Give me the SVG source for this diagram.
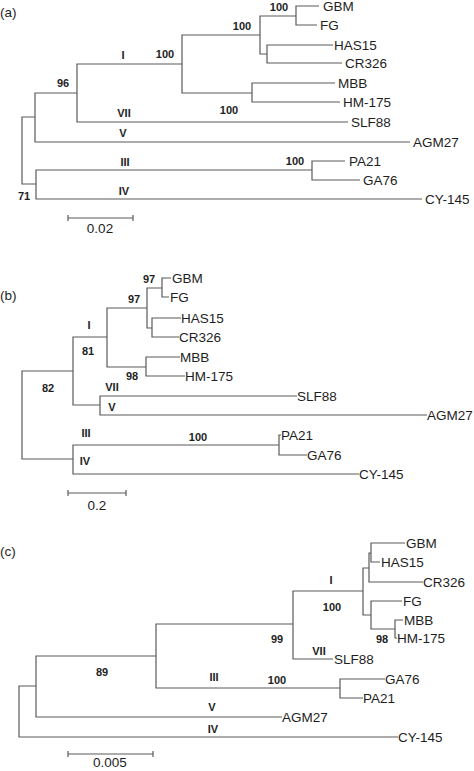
<svg xmlns="http://www.w3.org/2000/svg" width="474" height="771" viewBox="0 0 474 771">
<style>
.br{fill:none;stroke:#5a5a5a;stroke-width:1.2}
.tx{font-family:"Liberation Sans",Arial,sans-serif;font-size:13.5px;fill:#1e1e1e}
.bs{font-family:"Liberation Sans",Arial,sans-serif;font-size:11px;font-weight:bold;fill:#1e1e1e;text-anchor:middle}
.sc{text-anchor:middle}
</style>
<rect width="474" height="771" fill="#fff"/>

<!-- Panel (a) -->
<g id="panel-a">
<text class="tx" x="0" y="17">(a)</text>
<g id="a-connectors">
<path class="br" d="M35 117 H22 V184 H36"/>
<path class="br" d="M77 93 H35 V142 H410"/>
<path class="br" d="M312 170 H36 V199 H422"/>
<path class="br" d="M182 64 H77 V122 H348"/>
<path class="br" d="M260 35 H182 V93 H252"/>
<path class="br" d="M296 16 H260 V54 H267"/>
<path class="br" d="M319 6 H296 V25 H317"/>
<path class="br" d="M333 45 H267 V63 H342"/>
<path class="br" d="M335 83 H252 V102 H340"/>
<path class="br" d="M345 161 H312 V180 H360"/>
</g>
<g id="a-GBM"><text class="tx" x="323" y="11">GBM</text></g>
<g id="a-FG"><text class="tx" x="320" y="30">FG</text></g>
<g id="a-HAS15"><text class="tx" x="334" y="50">HAS15</text></g>
<g id="a-CR326"><text class="tx" x="345" y="68">CR326</text></g>
<g id="a-MBB"><text class="tx" x="338" y="88">MBB</text></g>
<g id="a-HM175"><text class="tx" x="343" y="107">HM-175</text></g>
<g id="a-SLF88"><text class="tx" x="351" y="127">SLF88</text></g>
<g id="a-AGM27"><text class="tx" x="413" y="147">AGM27</text></g>
<g id="a-PA21"><text class="tx" x="349" y="166">PA21</text></g>
<g id="a-GA76"><text class="tx" x="363" y="185">GA76</text></g>
<g id="a-CY145"><text class="tx" x="425" y="204">CY-145</text></g>
<g id="a-support">
<text class="bs" x="279" y="11">100</text>
<text class="bs" x="242" y="30">100</text>
<text class="bs" x="165" y="58">100</text>
<text class="bs" x="63" y="87">96</text>
<text class="bs" x="123" y="59">I</text>
<text class="bs" x="124" y="117">VII</text>
<text class="bs" x="229" y="114">100</text>
<text class="bs" x="123" y="137">V</text>
<text class="bs" x="125" y="166">III</text>
<text class="bs" x="124" y="195">IV</text>
<text class="bs" x="24" y="200">71</text>
<text class="bs" x="295" y="165">100</text>
</g>
<g id="a-scale">
<path class="br" d="M68 218 H133 M68 215 V221 M133 215 V221"/>
<text class="tx sc" x="100" y="233">0.02</text>
</g>
</g>

<!-- Panel (b) -->
<g id="panel-b">
<text class="tx" x="0" y="300">(b)</text>
<g id="b-connectors">
<path class="br" d="M73 371 H22 V459 H73"/>
<path class="br" d="M107 337 H73 V405 H100"/>
<path class="br" d="M297 396 H100 V415 H427"/>
<path class="br" d="M147 308 H107 V367 H146"/>
<path class="br" d="M162 288 H147 V328 H152"/>
<path class="br" d="M171 278 H162 V297 H169"/>
<path class="br" d="M181 318 H152 V337 H179"/>
<path class="br" d="M180 357 H146 V376 H185"/>
<path class="br" d="M279 445 H73 V474 H359"/>
<path class="br" d="M281 435 H279 V455 H307"/>
</g>
<g id="b-GBM"><text class="tx" x="172" y="283">GBM</text></g>
<g id="b-FG"><text class="tx" x="170" y="302">FG</text></g>
<g id="b-HAS15"><text class="tx" x="181" y="323">HAS15</text></g>
<g id="b-CR326"><text class="tx" x="179" y="342">CR326</text></g>
<g id="b-MBB"><text class="tx" x="180" y="362">MBB</text></g>
<g id="b-HM175"><text class="tx" x="185" y="381">HM-175</text></g>
<g id="b-SLF88"><text class="tx" x="297" y="401">SLF88</text></g>
<g id="b-AGM27"><text class="tx" x="427" y="420">AGM27</text></g>
<g id="b-PA21"><text class="tx" x="281" y="440">PA21</text></g>
<g id="b-GA76"><text class="tx" x="307" y="460">GA76</text></g>
<g id="b-CY145"><text class="tx" x="359" y="479">CY-145</text></g>
<g id="b-support">
<text class="bs" x="149" y="283">97</text>
<text class="bs" x="134" y="303">97</text>
<text class="bs" x="89" y="329">I</text>
<text class="bs" x="88" y="355">81</text>
<text class="bs" x="48" y="392">82</text>
<text class="bs" x="132" y="380">98</text>
<text class="bs" x="112" y="391">VII</text>
<text class="bs" x="112" y="411">V</text>
<text class="bs" x="86" y="437">III</text>
<text class="bs" x="198" y="441">100</text>
<text class="bs" x="85" y="465">IV</text>
</g>
<g id="b-scale">
<path class="br" d="M68 493 H126 M68 490 V496 M126 490 V496"/>
<text class="tx sc" x="97" y="510">0.2</text>
</g>
</g>

<!-- Panel (c) -->
<g id="panel-c">
<text class="tx" x="0" y="556">(c)</text>
<g id="c-connectors">
<path class="br" d="M36 686 H19 V737 H398"/>
<path class="br" d="M156 656 H36 V717 H282"/>
<path class="br" d="M293 624 H156 V688 H340"/>
<path class="br" d="M363 591 H293 V659 H333"/>
<path class="br" d="M385 679 H340 V698 H363"/>
<path class="br" d="M369 568 H363 V615 H371"/>
<path class="br" d="M371 553 H369 V582 H423"/>
<path class="br" d="M405 543 H371 V562 H380"/>
<path class="br" d="M402 601 H371 V629 H395"/>
<path class="br" d="M403 620 H395 V638 H397"/>
</g>
<g id="c-GBM"><text class="tx" x="406" y="548">GBM</text></g>
<g id="c-HAS15"><text class="tx" x="381" y="567">HAS15</text></g>
<g id="c-CR326"><text class="tx" x="423" y="587">CR326</text></g>
<g id="c-FG"><text class="tx" x="403" y="606">FG</text></g>
<g id="c-MBB"><text class="tx" x="404" y="625">MBB</text></g>
<g id="c-HM175"><text class="tx" x="397" y="643">HM-175</text></g>
<g id="c-SLF88"><text class="tx" x="334" y="664">SLF88</text></g>
<g id="c-GA76"><text class="tx" x="385" y="684">GA76</text></g>
<g id="c-PA21"><text class="tx" x="363" y="703">PA21</text></g>
<g id="c-AGM27"><text class="tx" x="282" y="722">AGM27</text></g>
<g id="c-CY145"><text class="tx" x="398" y="742">CY-145</text></g>
<g id="c-support">
<text class="bs" x="331" y="584">I</text>
<text class="bs" x="332" y="611">100</text>
<text class="bs" x="277" y="643">99</text>
<text class="bs" x="382" y="643">98</text>
<text class="bs" x="319" y="655">VII</text>
<text class="bs" x="277" y="684">100</text>
<text class="bs" x="102" y="676">89</text>
<text class="bs" x="214" y="681">III</text>
<text class="bs" x="212" y="711">V</text>
<text class="bs" x="213" y="733">IV</text>
</g>
<g id="c-scale">
<path class="br" d="M68 754 H153 M68 751 V757 M153 751 V757"/>
<text class="tx sc" x="110" y="767">0.005</text>
</g>
</g>
</svg>
